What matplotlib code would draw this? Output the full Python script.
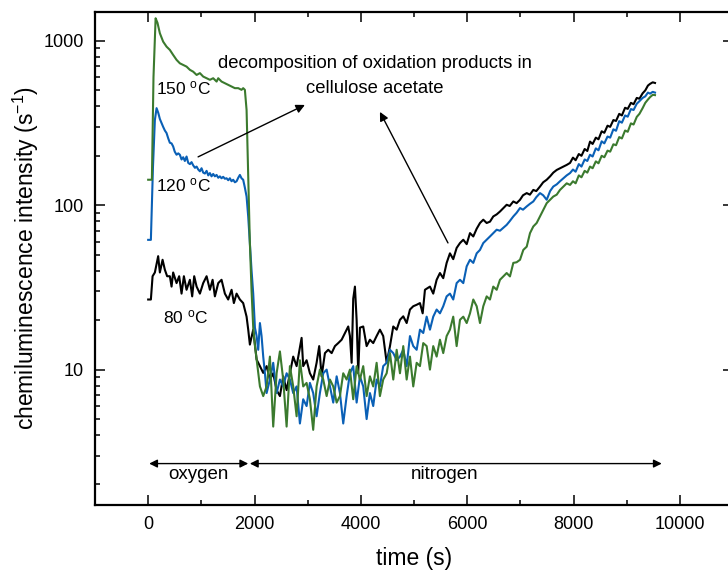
import numpy as np
import matplotlib.pyplot as plt
from matplotlib.ticker import FixedLocator, LogLocator, NullFormatter

plt.rcParams['font.family'] = 'Liberation Sans'
plt.rcParams['mathtext.fontset'] = 'custom'
plt.rcParams['mathtext.rm'] = 'Liberation Sans'
plt.rcParams['mathtext.it'] = 'Liberation Sans:italic'

# --- data (time in s, intensity in 1/s) ---
# 80 C (black)
t_80 = [0, 51, 83, 126, 188, 220, 271, 314, 357, 408,
        440, 470, 534, 583, 628, 672, 722, 785, 828, 866,
        911, 973, 1035, 1099, 1161, 1212, 1255, 1318, 1380, 1443,
        1505, 1569, 1612, 1663, 1725, 1787, 1851, 1882,
        1913, 1976, 2040, 2102, 2164, 2228, 2290, 2352, 2416, 2478,
        2540, 2604, 2666, 2728, 2792, 2886, 2916, 2980, 3042, 3104,
        3168, 3217, 3262, 3325, 3387, 3451, 3513, 3575, 3639, 3701,
        3763, 3795, 3827, 3857, 3889, 3921, 3951, 3983, 4045, 4109,
        4171, 4233, 4297, 4359, 4421, 4486, 4548, 4610, 4674, 4736,
        4798, 4862, 4924, 4986, 5050, 5112, 5163, 5206, 5300, 5362,
        5426, 5488, 5550, 5614, 5676, 5738, 5802, 5865, 5927, 5991,
        6053, 6115, 6179, 6241, 6303, 6367, 6429, 6491, 6555, 6617,
        6680, 6743, 6800, 6868, 6930, 6994, 7050, 7120, 7180, 7244,
        7300, 7370, 7430, 7496, 7560, 7620, 7684, 7750, 7810, 7872,
        7935, 7990, 8040, 8100, 8150, 8210, 8260, 8311, 8360, 8420,
        8470, 8530, 8580, 8640, 8690, 8750, 8800, 8860, 8910, 8970,
        9020, 9080, 9130, 9190, 9240, 9300, 9350, 9400, 9440, 9490,
        9533]
i_80 = [26.7, 26.7, 37, 39, 49, 39, 46.6, 40.5, 37, 37,
        32, 39, 33.6, 37, 29, 37, 30.6, 35.2, 27.9, 37,
        32, 29, 33.6, 37, 30.6, 35.2, 27.9, 33.6, 35.2, 29,
        26.7, 30.6, 25.4, 29, 26.7, 25.4, 21, 17.5,
        14.2, 17.5, 11.5, 10.5, 9.55, 10.5, 8.7, 9.5, 7.5, 6.9,
        9.1, 7.5, 9.5, 12.0, 10.5, 15.6, 10.5, 11.4, 9.5, 8.7,
        11.0, 13.9, 9.1, 12.6, 13.2, 12.6, 13.9, 14.5, 15.2, 16.7,
        18.3, 16.0, 11, 27, 32, 20, 9.5, 18, 18.3, 13.9,
        15.2, 14.5, 16.0, 17.5, 16, 11, 13.9, 18.3, 17.5, 20.1,
        21.1, 19.2, 23.2, 24.3, 24.8, 25.4, 22, 30.6, 32, 29,
        35.2, 38.7, 36, 44.6, 51, 47, 55, 58.9, 61.7, 58,
        67.7, 64.6, 72, 78, 81.7, 78, 79.5, 85.5, 88, 91.6,
        96, 100.7, 99, 105.5, 103, 108, 115, 118.6, 116, 124,
        122, 130, 138, 143, 150, 158, 164, 168, 172, 176,
        181, 195, 188, 205, 200, 220, 214, 244, 236, 258,
        252, 282, 276, 305, 300, 330, 326, 360, 352, 392,
        386, 420, 412, 450, 445, 480, 500, 535, 548, 560,
        555]

# 120 C (blue)
t_120 = [0, 51, 90, 126, 158, 190, 220, 252, 282, 314,
         346, 378, 408, 440, 470, 500, 534, 566, 596, 628,
         659, 690, 722, 754, 785, 816, 847, 880, 911, 942,
         973, 1004, 1035, 1067, 1099, 1130, 1161, 1192, 1223, 1255,
         1287, 1318, 1349, 1380, 1411, 1443, 1475, 1506, 1537, 1568,
         1599, 1631, 1663, 1694, 1725, 1756, 1787, 1819, 1851, 1882,
         1913, 1945, 1976, 2008, 2040, 2070, 2102, 2133, 2164, 2196,
         2228, 2290, 2352, 2416, 2478, 2540, 2604, 2666, 2728, 2792,
         2854, 2916, 2980, 3042, 3104, 3168, 3230, 3293, 3357, 3419,
         3481, 3545, 3607, 3669, 3733, 3795, 3857, 3921, 3983, 4045,
         4109, 4171, 4233, 4297, 4359, 4421, 4486, 4548, 4610, 4674,
         4736, 4798, 4862, 4924, 4986, 5050, 5112, 5174, 5238, 5300,
         5362, 5426, 5488, 5550, 5614, 5676, 5738, 5802, 5865, 5927,
         5991, 6053, 6115, 6179, 6241, 6303, 6367, 6429, 6491, 6555,
         6617, 6680, 6743, 6800, 6868, 6930, 6994, 7050, 7120, 7180,
         7244, 7300, 7370, 7430, 7496, 7560, 7620, 7684, 7746, 7810,
         7872, 7935, 7990, 8040, 8100, 8150, 8210, 8260, 8311, 8360,
         8420, 8470, 8530, 8580, 8640, 8690, 8750, 8800, 8860, 8910,
         8970, 9020, 9080, 9130, 9190, 9240, 9300, 9350, 9400, 9440,
         9490, 9533]
i_120 = [61.6, 61.6, 170, 330, 390, 365, 335, 316, 300, 285,
         275, 255, 240, 238, 228, 212, 203, 207, 203, 190,
         196, 186, 198, 181, 178, 183, 175, 169, 172, 165,
         161, 168, 158, 156, 162, 152, 157, 150, 155, 150,
         153, 147, 150, 146, 149, 145, 146, 142, 146, 140,
         143, 138, 140, 147, 153, 146, 143, 128, 113, 85,
         59, 40, 29, 18, 16, 13.2, 19.2, 16, 12, 9.5,
         7.2, 8.7, 11, 7.2, 8.7, 7.9, 9.5, 8.7, 7.2, 7.9,
         4.7, 6.6, 6.0, 8.3, 7.2, 5.2, 7.2, 9.5, 10, 7.9,
         6.3, 9.1, 7.2, 4.7, 6.9, 9.5, 10.5, 6.3, 9.1, 7.9,
         5.0, 7.2, 6.0, 8.7, 7.9, 10.5, 11, 13.2, 12.6, 11.4,
         12, 13.2, 10.5, 16, 13.9, 13.2, 17.5, 16.7, 21, 17.5,
         21, 23.2, 22, 24.3, 27.9, 29, 26.7, 33.6, 35.2, 33.6,
         42.5, 46.6, 44.6, 51, 53.5, 58.9, 61.7, 64.6, 67.7, 71,
         70, 73, 76, 80, 85.5, 90, 96.2, 94, 98.4, 102,
         105.5, 112, 118.6, 115, 108, 122, 130, 134, 140, 146,
         152, 157, 165, 160, 178, 172, 190, 186, 203, 198,
         222, 216, 245, 238, 262, 258, 290, 284, 325, 318,
         352, 346, 385, 380, 415, 430, 450, 460, 485, 478,
         490, 485]

# 150 C (green)
t_150 = [0, 70, 100, 140, 175, 220, 282, 346, 408, 470,
         534, 596, 659, 722, 785, 847, 911, 973, 1035, 1099,
         1161, 1223, 1287, 1318, 1380, 1443, 1505, 1569, 1631, 1694,
         1756, 1787, 1819, 1851, 1882, 1913, 1945, 1976, 2008,
         2040, 2102, 2164, 2228, 2290, 2352, 2416, 2478, 2540, 2604,
         2666, 2728, 2792, 2854, 2916, 2980, 3042, 3104, 3168, 3230,
         3293, 3357, 3419, 3481, 3545, 3607, 3669, 3733, 3795, 3857,
         3921, 3983, 4045, 4109, 4171, 4233, 4297, 4359, 4421, 4486,
         4548, 4610, 4674, 4736, 4798, 4862, 4924, 4986, 5050, 5112,
         5174, 5238, 5300, 5362, 5426, 5488, 5550, 5614, 5676, 5738,
         5802, 5865, 5927, 5991, 6053, 6115, 6179, 6241, 6303, 6367,
         6429, 6491, 6555, 6617, 6679, 6743, 6805, 6868, 6930, 6994,
         7056, 7120, 7182, 7244, 7307, 7370, 7433, 7496, 7558, 7620,
         7684, 7746, 7810, 7872, 7935, 7990, 8040, 8100, 8150, 8210,
         8260, 8311, 8360, 8420, 8470, 8530, 8580, 8640, 8690, 8750,
         8800, 8860, 8910, 8970, 9020, 9080, 9130, 9190, 9240, 9300,
         9350, 9400, 9440, 9490, 9533]
i_150 = [143, 143, 600, 1374, 1290, 1114, 990, 923, 882, 822,
         767, 731, 714, 698, 667, 650, 621, 637, 607, 593,
         580, 593, 566, 593, 566, 553, 541, 528, 516, 516,
         504, 516, 504, 380, 150, 59, 30, 18, 14,
         11.5, 7.9, 6.9, 7.9, 12, 4.5, 9.5, 12.9, 8.7, 4.5,
         10.5, 7.9, 5.2, 11.4, 7.9, 8.3, 6.6, 4.3, 7.9, 10,
         8.7, 6.9, 8.7, 7.9, 6.3, 6.9, 9.5, 8.7, 10, 6.6,
         10.5, 8.7, 10.5, 6.9, 9.1, 7.9, 11, 6.9, 8.7, 9.5,
         12.6, 8.7, 13.2, 9.5, 13.9, 8.7, 12, 7.9, 11, 10.5,
         14.5, 13.9, 10, 13.9, 12, 15.2, 12.6, 16, 17.5, 21,
         13.9, 20.1, 21, 19.2, 22, 26.7, 24.3, 19.2, 24.3, 27.9,
         26.7, 32, 30.6, 35.2, 36.9, 38.7, 36.9, 44.6, 45, 46.6,
         53.5, 56, 67.7, 74.3, 78, 85.5, 94, 103, 108, 113,
         116, 124, 130, 136, 133, 140, 136, 152, 148, 162,
         158, 172, 168, 185, 180, 200, 196, 215, 212, 235,
         232, 260, 255, 285, 280, 315, 310, 345, 360, 390,
         420, 440, 455, 470, 468]

x_ticks = [0, 2000, 4000, 6000, 8000, 10000]
x_ticklabels = ['0', '2000', '4000', '6000', '8000', '10000']
y_ticks = [10, 100, 1000]
y_ticklabels = ['10', '100', '1000']

# --- figure ---
fig = plt.figure(figsize=(7.28, 5.73), dpi=100)
ax = fig.add_axes([95/728, 68/573, 638/728, 493/573])

ax.plot(t_80, i_80, color='black', lw=1.5)
ax.plot(t_120, i_120, color='#0a60b6', lw=1.5)
ax.plot(t_150, i_150, color='#3b7a2e', lw=1.5)

ax.set_yscale('log')
ax.set_xlim(-1000, 11000)
ax.set_ylim(1.5, 1500)

ax.xaxis.set_major_locator(FixedLocator(x_ticks))
ax.set_xticklabels(x_ticklabels)
ax.xaxis.set_minor_locator(FixedLocator(np.arange(-1000, 11001, 1000)))
ax.yaxis.set_major_locator(FixedLocator(y_ticks))
ax.set_yticklabels(y_ticklabels)
ax.yaxis.set_minor_locator(LogLocator(base=10, subs=np.arange(2, 10)))
ax.yaxis.set_minor_formatter(NullFormatter())

ax.tick_params(which='both', direction='in', top=True, right=True, width=1.1)
ax.tick_params(which='major', length=7, labelsize=13, pad=8)
ax.tick_params(which='minor', length=3.5)
for sp in ax.spines.values():
    sp.set_linewidth(1.6)

ax.set_xlabel('time (s)', fontsize=16.5, labelpad=10)
ax.set_ylabel('chemiluminescence intensity (s$^{-1}$)', fontsize=16.5, labelpad=2)

# curve labels
ax.text(139, 476, '150 $^{\\mathrm{o}}$C', fontsize=12.5, va='baseline')
ax.text(139, 120.8, '120 $^{\\mathrm{o}}$C', fontsize=12.5, va='baseline')
ax.text(282, 19.2, '80 $^{\\mathrm{o}}$C', fontsize=12.5, va='baseline')

ax.text(4265, 685, 'decomposition of oxidation products in', fontsize=13.3,
        ha='center', va='baseline')
ax.text(4265, 483, 'cellulose acetate', fontsize=13.3, ha='center', va='baseline')

arr = dict(arrowstyle='-|>', color='black', lw=1.0, mutation_scale=13,
           shrinkA=0, shrinkB=0)
ax.annotate('', xy=(2948, 408), xytext=(939, 197), arrowprops=arr)
ax.annotate('', xy=(4359, 370), xytext=(5639, 59), arrowprops=arr)

# gas atmosphere arrows
arr2 = dict(arrowstyle='<|-|>', color='black', lw=1.0, mutation_scale=12,
            shrinkA=0, shrinkB=0)
ax.annotate('', xy=(19, 2.68), xytext=(1882, 2.68), arrowprops=arr2)
ax.annotate('', xy=(1913, 2.68), xytext=(9660, 2.68), arrowprops=arr2)
ax.text(939, 2.15, 'oxygen', fontsize=13.5, ha='center', va='baseline')
ax.text(5582, 2.15, 'nitrogen', fontsize=13.5, ha='center', va='baseline')

fig.savefig('out.png', dpi=100)
